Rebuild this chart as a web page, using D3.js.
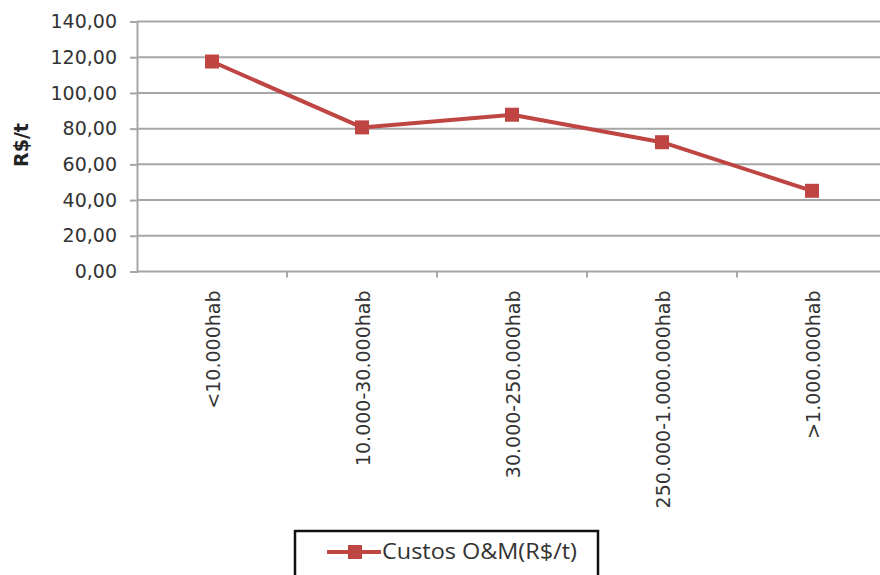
<!DOCTYPE html>
<html>
<head>
<meta charset="utf-8">
<script src="https://cdn.jsdelivr.net/npm/d3@7/dist/d3.min.js"></script>
<style>
  html, body { margin: 0; padding: 0; background: #fff; }
  svg { display: block; }
</style>
</head>
<body>
<svg id="chart" width="880" height="575"></svg>
<script>
// Operating and maintenance cost per tonne by municipality size
const categories = ["<10.000hab", "10.000-30.000hab", "30.000-250.000hab", "250.000-1.000.000hab", ">1.000.000hab"];
const costValues = [117.6, 80.7, 87.8, 72.4, 45.2];
const yTicks = [0, 20, 40, 60, 80, 100, 120, 140];
const seriesName = "Custos O&M(R$/t)";
const yTitle = "R$/t";

const W = 880, H = 575;
const plotLeft = 137, plotRight = 887, plotTop = 21.5, plotBottom = 271.5;
const gridRight = 880;
const red = "#bf4543";
const gridColor = "#a6a6a6";
const textColor = "#333333";

const svg = d3.select("#chart");
svg.append("rect").attr("width", W).attr("height", H).attr("fill", "#fff");

const x = d3.scaleBand().domain(categories).range([plotLeft, plotRight]).paddingInner(0).paddingOuter(0);
const y = d3.scaleLinear().domain([0, 140]).range([plotBottom, plotTop]);

const ptBR = d3.formatLocale({ decimal: ",", thousands: ".", grouping: [3], currency: ["R$", ""] });
const fmt = ptBR.format(",.2f");

// horizontal gridlines
svg.append("g")
  .selectAll("line")
  .data(yTicks.filter(d => d > 0))
  .join("line")
  .attr("x1", plotLeft).attr("x2", gridRight)
  .attr("y1", d => y(d)).attr("y2", d => y(d))
  .attr("stroke", gridColor).attr("stroke-width", 2);

// y axis
const yAxis = svg.append("g")
  .attr("transform", `translate(${plotLeft},0)`)
  .call(d3.axisLeft(y).tickValues(yTicks).tickFormat(fmt).tickSize(7).tickPadding(13));
yAxis.select(".domain").attr("stroke", gridColor).attr("stroke-width", 2);
yAxis.selectAll(".tick line").attr("stroke", gridColor).attr("stroke-width", 2);
yAxis.selectAll(".tick text")
  .attr("font-family", "DejaVu Sans")
  .attr("font-size", 19)
  .attr("fill", textColor);

// x axis line and tick marks at category boundaries
svg.append("line")
  .attr("x1", plotLeft).attr("x2", gridRight)
  .attr("y1", plotBottom).attr("y2", plotBottom)
  .attr("stroke", gridColor).attr("stroke-width", 2);
svg.append("g")
  .selectAll("line")
  .data(categories.slice(1))
  .join("line")
  .attr("x1", d => x(d)).attr("x2", d => x(d))
  .attr("y1", plotBottom).attr("y2", plotBottom + 6)
  .attr("stroke", gridColor).attr("stroke-width", 2);

// rotated category labels
svg.append("g")
  .selectAll("text")
  .data(categories)
  .join("text")
  .attr("transform", d => `translate(${x(d) + x.bandwidth() / 2 + 1},${plotBottom + 19}) rotate(-90)`)
  .attr("text-anchor", "end")
  .attr("dy", "0.36em")
  .attr("font-family", "DejaVu Sans")
  .attr("font-size", 19)
  .attr("fill", textColor)
  .text(d => d);

// y axis title
svg.append("text")
  .attr("transform", `translate(28,145) rotate(-90)`)
  .attr("text-anchor", "middle")
  .attr("font-family", "DejaVu Sans")
  .attr("font-weight", "bold")
  .attr("font-size", 19)
  .attr("fill", "#222")
  .text(yTitle);

// cost line with square markers
const cx = d => x(d) + x.bandwidth() / 2;
const line = d3.line().x(d => cx(d.c)).y(d => y(d.v));
const pts = categories.map((c, i) => ({ c, v: costValues[i] }));
svg.append("path")
  .datum(pts)
  .attr("d", line)
  .attr("fill", "none")
  .attr("stroke", red)
  .attr("stroke-width", 4)
  .attr("stroke-linejoin", "round");
const ms = 14;
svg.append("g")
  .selectAll("rect")
  .data(pts)
  .join("rect")
  .attr("x", d => cx(d.c) - ms / 2)
  .attr("y", d => y(d.v) - ms / 2)
  .attr("width", ms).attr("height", ms)
  .attr("fill", red);

// legend
const lg = svg.append("g");
lg.append("rect")
  .attr("x", 295).attr("y", 531)
  .attr("width", 303).attr("height", 60)
  .attr("fill", "#fff")
  .attr("stroke", "#111").attr("stroke-width", 2.5);
lg.append("line")
  .attr("x1", 327).attr("x2", 381)
  .attr("y1", 552).attr("y2", 552)
  .attr("stroke", red).attr("stroke-width", 4);
lg.append("rect")
  .attr("x", 348).attr("y", 545).attr("width", 14).attr("height", 14)
  .attr("fill", red);
lg.append("text")
  .attr("x", 382).attr("y", 559)
  .attr("font-family", "Open Sans")
  .attr("font-size", 21)
  .attr("fill", textColor)
  .attr("textLength", 195)
  .attr("lengthAdjust", "spacingAndGlyphs")
  .text(seriesName);
</script>
</body>
</html>
